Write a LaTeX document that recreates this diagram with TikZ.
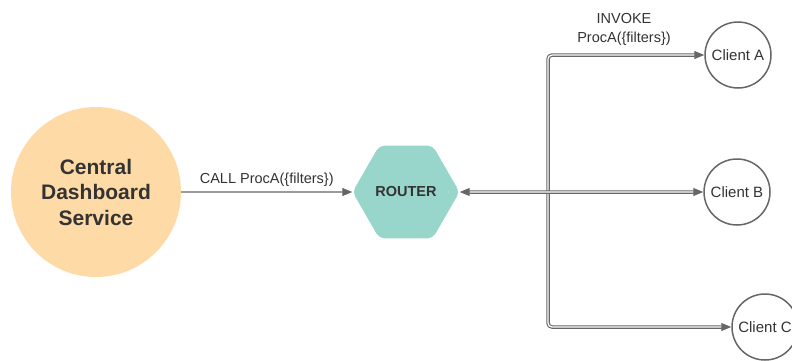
\documentclass[tikz,border=0pt]{standalone}
\usepackage{fontspec}
\setmainfont{Liberation Sans}
\usepackage{xcolor}
\definecolor{colorService}{RGB}{254,218,167}
\definecolor{colorRouter}{RGB}{152,213,203}
\definecolor{colorLink}{RGB}{102,102,102}
\definecolor{colorText}{RGB}{51,51,51}
\usetikzlibrary{arrows.meta, shapes.geometric, positioning}
\tikzset{
  service/.style={circle, fill=colorService, minimum size=170pt, align=center,
    font=\fontsize{21}{25.5}\selectfont\bfseries, text=colorText},
  router/.style={regular polygon, regular polygon sides=6, fill=colorRouter,
    minimum size=107pt, inner sep=0pt, rounded corners=5pt,
    font=\fontsize{14.5}{17}\selectfont\bfseries, text=colorText},
  client/.style={circle, draw=colorLink, line width=1.5pt, fill=white,
    minimum size=66pt, inner sep=0pt, font=\fontsize{15}{18}\selectfont, text=colorText},
  call/.style={draw=colorLink, line width=1.2pt, -{Triangle[length=10pt,width=8pt]}},
  invoke/.style={draw=colorLink, line width=1.1pt, double=white, double distance=1.3pt,
    rounded corners=4pt},
  label/.style={font=\fontsize{14.5}{19}\selectfont, text=colorText, align=center}
}

\begin{document}
\begin{tikzpicture}[x=1pt, y=1pt, >={Triangle[length=10pt,width=8pt]}]
\clip (0,0) rectangle (792,360);
\node[service] (central) at (96,168) {Central\\Dashboard\\Service};
\node[router] (router) at (406,168) {ROUTER};
\node[client] (clientA) at (738,305) {Client A};
\node[client] (clientB) at (737,168) {Client B};
\node[client] (clientC) at (765,33) {Client C};
\coordinate (hub) at (548,168);

% call from the dashboard
\draw[call] (central) -- node[label, above=2pt] {CALL ProcA(\{filters\})} (router);

% fan out to the clients
\draw[invoke, ->] (hub) |- (clientA);
\draw[invoke, ->] (hub) |- (clientC);
\draw[invoke, <->] (router.east) -- (clientB);

\node[label] (invokeLabel) at (624,331) {INVOKE\\ProcA(\{filters\})};
\end{tikzpicture}
\end{document}
